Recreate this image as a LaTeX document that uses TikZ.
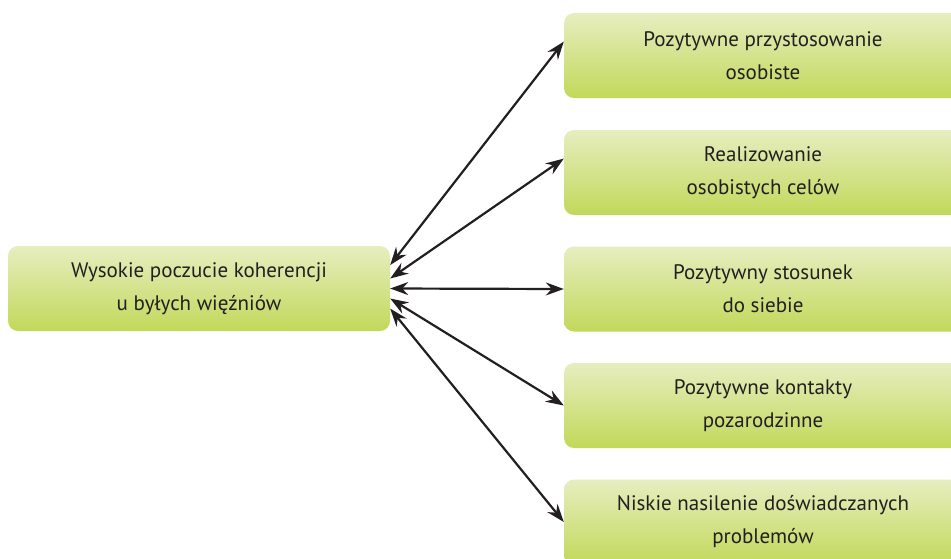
\documentclass[tikz,border=0pt]{standalone}
\usepackage{fontspec}
\setmainfont{PT Sans}
\usepackage{tikz}
\usetikzlibrary{arrows.meta,shapes,positioning}
\usepackage{xcolor}
\definecolor{boxtop}{RGB}{230,238,192}
\definecolor{boxbottom}{RGB}{194,216,90}
\definecolor{textdark}{RGB}{35,31,32}
\tikzstyle{arrow} = [line width=2.2pt,{Stealth[length=18pt,width=13pt,inset=6pt]}-{Stealth[length=18pt,width=13pt,inset=6pt]},color=textdark]
\tikzstyle{greenbox} = [rectangle, rounded corners=10pt, top color=boxtop, bottom color=boxbottom, draw=none, minimum height=85pt, align=center, font=\fontsize{21}{33}\selectfont, text=textdark]

\begin{document}
\begin{tikzpicture}[x=1pt,y=-1pt]
\clip (0,0) rectangle (951,558);
% Nodes
\node[greenbox, minimum width=382pt] (src) at (199,288.5) {Wysokie poczucie koherencji\\u byłych więźniów};
\node[greenbox, minimum width=398pt] (r1) at (763,55.5) {Pozytywne przystosowanie\\osobiste};
\node[greenbox, minimum width=398pt] (r2) at (763,172.5) {Realizowanie\\osobistych celów};
\node[greenbox, minimum width=398pt] (r3) at (763,289) {Pozytywny stosunek\\do siebie};
\node[greenbox, minimum width=398pt] (r4) at (763,405.5) {Pozytywne kontakty\\pozarodzinne};
\node[greenbox, minimum width=398pt] (r5) at (763,522) {Niskie nasilenie doświadczanych\\problemów};

% Arrows
\draw[arrow] (src.7.3) -- (r1.176);
\draw[arrow] (src.3.7) -- (r2.176.4);
\draw[arrow] (src.east) -- (r3.west);
\draw[arrow] (src.-3.1) -- (r4.west);
\draw[arrow] (src.-6.4) -- (r5.west);
\end{tikzpicture}
\end{document}
